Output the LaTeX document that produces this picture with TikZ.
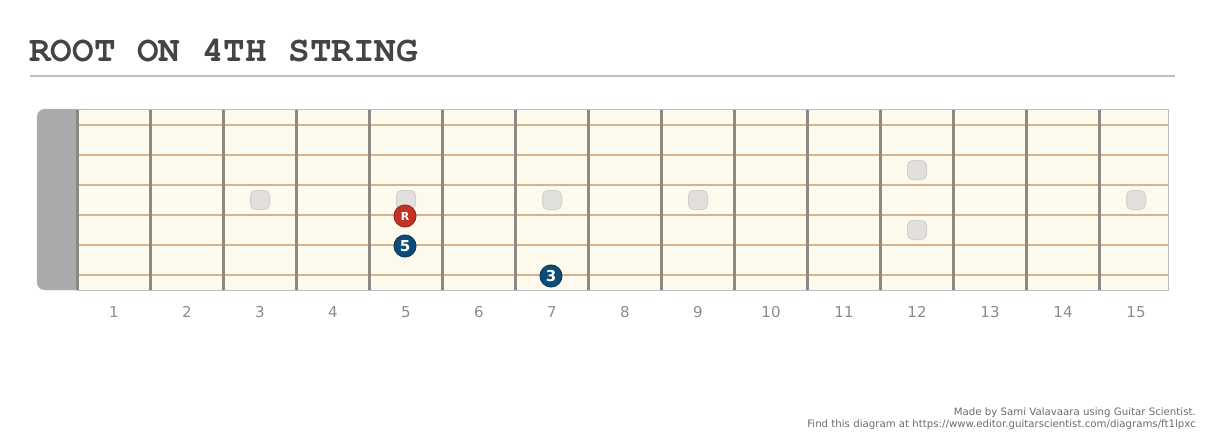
\documentclass[tikz,border=0pt]{standalone}
\usepackage{fontspec}
\setmainfont{DejaVu Sans}
\newfontfamily\titlefont{TeX Gyre Cursor}
\usetikzlibrary{positioning}

\definecolor{boardfill}{RGB}{254,249,237}
\definecolor{stringcol}{RGB}{214,178,143}
\definecolor{fretcol}{RGB}{140,136,130}
\definecolor{nutgray}{RGB}{170,170,170}
\definecolor{edgegray}{RGB}{190,190,190}
\definecolor{inlayfill}{RGB}{226,224,220}
\definecolor{inlayedge}{RGB}{212,210,206}
\definecolor{rootred}{RGB}{196,50,38}
\definecolor{noteblue}{RGB}{12,76,118}
\definecolor{titlegray}{RGB}{68,68,68}

\tikzset{
  inlay/.style={draw=inlayedge, fill=inlayfill, line width=1pt, rounded corners=5pt,
    minimum width=19pt, minimum height=19pt, inner sep=0pt},
  note/.style={circle, minimum size=22pt, inner sep=0pt, line width=1pt,
    text=white, font=\bfseries},
  fretnum/.style={text=gray!90, anchor=base, font=\fontsize{15}{18}\selectfont}
}

\begin{document}
\begin{tikzpicture}[x=1pt, y=-1pt]
        \useasboundingbox (0, 0) rectangle (1206, 436);
        \node[anchor=base west, inner sep=0pt, text=titlegray,
              font=\titlefont\bfseries\fontsize{36}{40}\selectfont] (title) at (29, 62) {ROOT ON 4TH STRING};
        \draw[edgegray, line width=2pt] (30, 76) -- (1175, 76);

        % nut and board
        \filldraw[fill=nutgray, draw=edgegray, rounded corners=8pt] (37, 109) rectangle (95, 290);
        \fill[boardfill] (77, 109) rectangle (1168, 290);
        \draw[edgegray] (77, 109) -- (1168, 109) -- (1168, 290) -- (77, 290);
        \foreach \s in {1, ..., 6}
                \draw[stringcol, line width=2pt] (77, 95+30*\s) -- (1168, 95+30*\s);
        \foreach \f in {0, ..., 14}
                \draw[fretcol, line width=3pt] (77.5+73*\f, 109.5) -- (77.5+73*\f, 289.5);

        % inlays
        \foreach \f in {3, 5, 7, 9, 15}
                \node[inlay] (inlay\f) at (77.5+73*\f-36.5, 200) {};
        \node[inlay] (inlay12a) at (917, 170) {};
        \node[inlay] (inlay12b) at (917, 230) {};

        % fret numbers
        \foreach \n in {1, ..., 15}
                \node[fretnum] (num\n) at (77.5+73*\n-36.5, 317) {\n};

        % notes
        \node[note, fill=rootred, draw=rootred!80!black, font=\bfseries\fontsize{11}{13}\selectfont] (root) at (405, 216) {R};
        \node[note, fill=noteblue, draw=noteblue!80!black, font=\bfseries\fontsize{15}{17}\selectfont] (fifth) at (405, 246) {5};
        \node[note, fill=noteblue, draw=noteblue!80!black, font=\bfseries\fontsize{15}{17}\selectfont] (third) at (551, 276) {3};

        \node[anchor=base east, align=right, inner sep=0pt, text=gray!85!black,
              font=\fontsize{10.2}{12}\selectfont] (credit) at (1196, 427)
              {Made by Sami Valavaara using Guitar Scientist.\\Find this diagram at https://www.editor.guitarscientist.com/diagrams/ft1lpxc};
\end{tikzpicture}
\end{document}
